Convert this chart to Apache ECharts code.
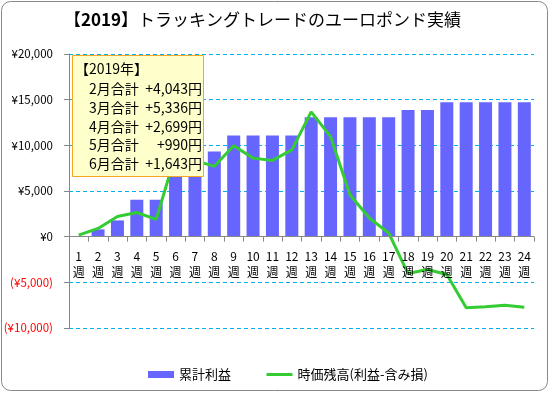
<!DOCTYPE html>
<html><head><meta charset="utf-8">
<script src="https://cdn.jsdelivr.net/npm/echarts@6/dist/echarts.min.js"></script>
<style>html,body{margin:0;padding:0;background:#fff}#c{width:550px;height:394px}</style>
</head><body><div id="c"></div>
<script>
const weeks = ['1','2','3','4','5','6','7','8','9','10','11','12','13','14','15','16','17','18','19','20','21','22','23','24'];
const cumulativeProfit = [0, 800, 1780, 4043, 4043, 7400, 8300, 9320, 11070, 11070, 11070, 11070, 13068, 13068, 13068, 13068, 13068, 13880, 13880, 14711, 14711, 14711, 14711, 14711];
const marketBalance = [170, 900, 2200, 2650, 1900, 9000, 8360, 7700, 9950, 8600, 8350, 9500, 13660, 10960, 4590, 2040, 400, -4040, -3600, -4150, -7790, -7680, -7500, -7720];
const months = ['2月合計','3月合計','4月合計','5月合計','6月合計'];
const monthTotals = [4043, 5336, 2699, 990, 1643];
const yTicks = {min: -10000, max: 20000, interval: 5000};

const FONT = '"Noto Sans CJK JP", sans-serif';
const chart = echarts.init(document.getElementById('c'), null, {renderer: 'canvas'});

const gridTop = 54, gridBottom = 66, H = 394;
const plotH = H - gridTop - gridBottom;
const zeroOffset = -plotH * (0 - yTicks.min) / (yTicks.max - yTicks.min);

const boxX = 72, boxY = 55, boxW = 131, boxH = 121;
const ZB = 100;
const graphics = [
  {type: 'rect', shape: {x: 1.5, y: 1.5, width: 546, height: 389, r: 9}, style: {fill: 'none', stroke: '#888', lineWidth: 1}, z: ZB, silent: true},
  {type: 'rect', shape: {x: boxX + 0.5, y: boxY + 0.5, width: boxW, height: boxH}, style: {fill: '#ffffcc', stroke: '#f5a623', lineWidth: 1}, z: ZB},
  {type: 'text', x: boxX + 3, y: 69, style: {text: '【2019年】', font: '14px ' + FONT, fill: '#000', verticalAlign: 'middle'}, z: ZB + 1}
];
months.forEach((m, i) => {
  const y = 89 + i * 18.6;
  graphics.push({type: 'text', x: 89, y: y, style: {text: m, font: '14px ' + FONT, fill: '#000', verticalAlign: 'middle'}, z: ZB + 1});
  graphics.push({type: 'text', x: 202, y: y, style: {text: '+' + monthTotals[i].toLocaleString('en-US') + '円', font: '14px ' + FONT, fill: '#000', align: 'right', verticalAlign: 'middle'}, z: ZB + 1});
});

const option = {
  animation: false,
  textStyle: {fontFamily: FONT},
  title: {
    text: '【{b|2019}】トラッキングトレードのユーロポンド実績',
    left: 59, top: 6,
    textStyle: {fontSize: 17, fontWeight: 'normal', color: '#000', fontFamily: FONT,
      rich: {b: {fontSize: 17, fontWeight: 'bold', color: '#000', fontFamily: FONT}}}
  },
  legend: {
    left: 143, top: 363,
    itemWidth: 26, itemHeight: 7, itemGap: 34,
    textStyle: {fontSize: 13, color: '#000', fontFamily: FONT},
    data: [
      {name: '累計利益', icon: 'rect'},
      {name: '時価残高(利益-含み損)', itemStyle: {opacity: 0}, lineStyle: {width: 3, color: '#33cc33'}}
    ]
  },
  grid: {left: 69, right: 16, top: gridTop, bottom: gridBottom, containLabel: false},
  xAxis: {
    type: 'category', data: weeks, boundaryGap: true,
    position: 'bottom', offset: zeroOffset,
    axisLine: {onZero: false, lineStyle: {color: '#888', width: 1}},
    axisTick: {show: true, length: 5, lineStyle: {color: '#888'}},
    axisLabel: {
      interval: 0, margin: 12, color: '#000', fontSize: 12, lineHeight: 16,
      formatter: v => v + '\n週'
    },
    z: 5
  },
  yAxis: {
    type: 'value', min: yTicks.min, max: yTicks.max, interval: yTicks.interval,
    axisLine: {show: true, lineStyle: {color: '#888'}},
    axisTick: {show: true, length: 5, lineStyle: {color: '#888'}},
    splitLine: {show: true, lineStyle: {color: '#00b0f0', type: [4, 3], width: 1}},
    axisLabel: {
      margin: 16, fontSize: 11.5,
      formatter: v => v < 0 ? '{n|(¥' + Math.abs(v).toLocaleString('en-US') + ')}' : '{p|¥' + v.toLocaleString('en-US') + '}',
      rich: {n: {color: '#ff0000', fontSize: 11.5, fontFamily: FONT}, p: {color: '#000', fontSize: 11.5, fontFamily: FONT}}
    }
  },
  series: [
    {name: '累計利益', type: 'bar', data: cumulativeProfit, barWidth: 13, itemStyle: {color: '#6666ff'}, z: 2},
    {name: '時価残高(利益-含み損)', type: 'line', data: marketBalance, symbol: 'none', lineStyle: {color: '#33cc33', width: 3}, itemStyle: {color: '#33cc33'}, z: 3}
  ],
  graphic: {elements: graphics}
};
chart.setOption(option);
</script></body></html>
